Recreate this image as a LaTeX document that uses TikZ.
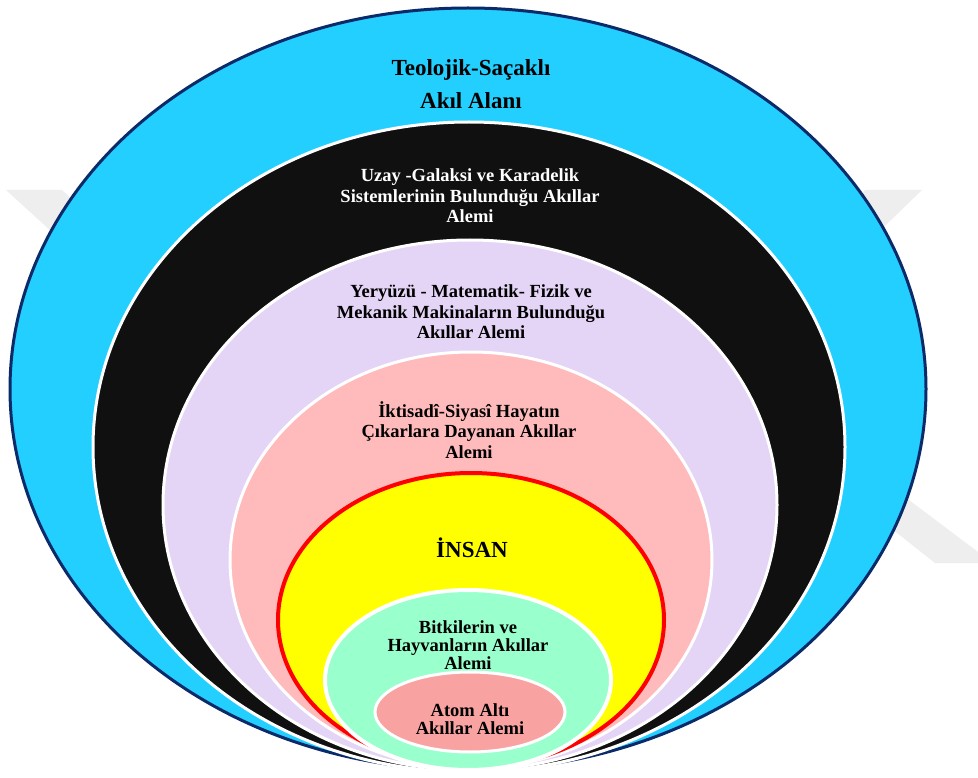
\documentclass[tikz,border=0pt]{standalone}
\usepackage{fontspec}
\setmainfont{Liberation Serif}
\usetikzlibrary{shapes.geometric}

\definecolor{skyfill}{HTML}{22CFFF}
\definecolor{navyline}{HTML}{0A2A6A}
\definecolor{spacefill}{HTML}{101010}
\definecolor{lilacfill}{HTML}{E4D4F6}
\definecolor{rosefill}{HTML}{FFBBBB}
\definecolor{sunfill}{HTML}{FFFF00}
\definecolor{redline}{HTML}{FF0000}
\definecolor{mintfill}{HTML}{99FFCC}
\definecolor{salmonfill}{HTML}{F9A2A2}
\definecolor{markgray}{HTML}{EEEEEE}

\tikzset{
  ring/.style={ellipse, inner sep=0pt, outer sep=0pt, draw=white, line width=3pt},
  label/.style={align=center, inner sep=0pt,
    font=\fontsize{18.5}{20.5}\selectfont\bfseries},
}

\begin{document}
\begin{tikzpicture}[x=1pt, y=-1pt]
\useasboundingbox (0,0) rectangle (978,778);
\fill[white] (0,0) rectangle (978,778);

% faint background mark
\fill[markgray] (6,190) -- (62,190) -- (130,252) -- (74,252) -- cycle;
\fill[markgray] (865,190) -- (922,190) -- (860,250) -- (820,250) -- cycle;
\fill[markgray] (893,488) -- (978,552) -- (978,563) -- (935,563) -- (868,510) -- cycle;

% nested regions, all meeting near the bottom
\node[ring, draw=navyline, fill=skyfill, minimum width=916pt, minimum height=762pt] (teo) at (468,389) {};
\node[ring, fill=spacefill, minimum width=752pt, minimum height=650pt] (uzay) at (469,447) {};
\node[ring, fill=lilacfill, minimum width=614pt, minimum height=530pt] (yer) at (470,505) {};
\node[ring, fill=rosefill, minimum width=482pt, minimum height=416pt] (ikt) at (471,560) {};
\node[ring, draw=redline, line width=4pt, fill=sunfill, minimum width=386pt, minimum height=294pt] (insan) at (471,620) {};
\node[ring, line width=4pt, fill=mintfill, minimum width=286pt, minimum height=180pt] (bitki) at (468,680) {};
\node[ring, fill=salmonfill, minimum width=190pt, minimum height=80pt] (atom) at (470,712) {};

% region titles
\node[label, font=\fontsize{23}{33}\selectfont\bfseries] (teoT) at (471,84) {Teolojik-Saçaklı\\Akıl Alanı};
\node[label, text=white] (uzayT) at (470,196) {Uzay -Galaksi ve Karadelik\\Sistemlerinin Bulunduğu Akıllar\\Alemi};
\node[label] (yerT) at (471,312) {Yeryüzü - Matematik- Fizik ve\\Mekanik Makinaların Bulunduğu\\Akıllar Alemi};
\node[label] (iktT) at (469,430) {İktisadî-Siyasî Hayatın\\Çıkarlara Dayanan Akıllar\\Alemi};
\node[label, font=\fontsize{23}{26}\selectfont\bfseries] (insanT) at (472,548) {İNSAN};
\node[label, font=\fontsize{18.5}{18}\selectfont\bfseries] (bitkiT) at (468,645) {Bitkilerin ve\\Hayvanların Akıllar\\Alemi};
\node[label, font=\fontsize{18.5}{18}\selectfont\bfseries] (atomT) at (470,719) {Atom Altı\\Akıllar Alemi};
\end{tikzpicture}
\end{document}
